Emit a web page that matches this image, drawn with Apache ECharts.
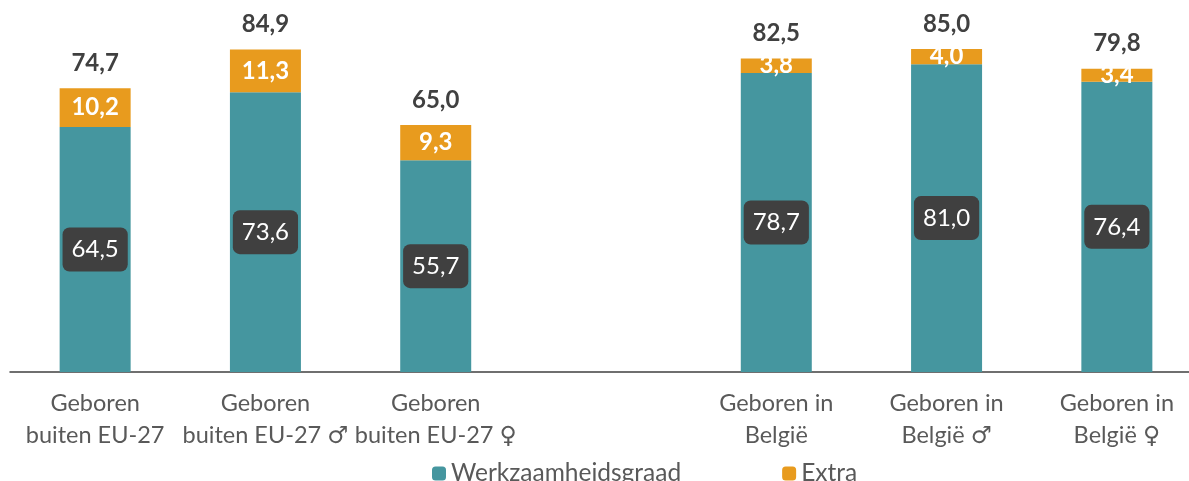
<!DOCTYPE html>
<html>
<head>
<meta charset="utf-8">
<script src="https://cdn.jsdelivr.net/npm/echarts@6/dist/echarts.min.js"></script>
<style>
  html, body { margin: 0; padding: 0; background: #fff; }
  #chart { width: 1189px; height: 481px; }
</style>
</head>
<body>
<div id="chart"></div>
<script>
// categories (middle one is an empty spacer)
const categories = [
  'Geboren\nbuiten EU-27',
  'Geboren\nbuiten EU-27 ♂',
  'Geboren\nbuiten EU-27 ♀',
  '',
  'Geboren in\nBelgië',
  'Geboren in\nBelgië ♂',
  'Geboren in\nBelgië ♀'
]
const werkzaamheidsgraad = [64.5, 73.6, 55.7, '-', 78.7, 81.0, 76.4]
const extra = [10.2, 11.3, 9.3, '-', 3.8, 4.0, 3.4]

const totals = werkzaamheidsgraad.map((v, i) => v === '-' ? '-' : +(v + extra[i]).toFixed(1))
const fmt = v => v.toFixed(1).replace('.', ',')

const font = 'Lato, "DejaVu Sans", sans-serif'

const chart = echarts.init(document.getElementById('chart'))
chart.setOption({
  animation: false,
  textStyle: { fontFamily: font },
  grid: {
    left: 10,
    width: 1192,
    top: 30,
    bottom: 109,
    outerBoundsMode: 'none'
  },
  legend: {
    data: ['Werkzaamheidsgraad', 'Extra'],
    top: 456,
    left: 427,
    itemWidth: 14,
    itemHeight: 14,
    itemGap: 101,
    textStyle: { fontSize: 24.5, color: '#595959', fontFamily: font }
  },
  xAxis: {
    type: 'category',
    data: categories,
    axisLine: { lineStyle: { color: '#404040', width: 1.5 } },
    axisTick: { alignWithLabel: true, length: 6, lineStyle: { color: '#404040', width: 1.5 } },
    axisLabel: {
      interval: 0,
      margin: 15,
      fontSize: 23.5,
      lineHeight: 32,
      color: '#595959',
      fontFamily: font
    }
  },
  yAxis: {
    type: 'value',
    min: 0,
    max: 90,
    show: false
  },
  series: [
    {
      name: 'Werkzaamheidsgraad',
      type: 'bar',
      stack: 'a',
      barWidth: 71,
      data: werkzaamheidsgraad,
      itemStyle: { color: '#45969F' },
      label: {
        show: true,
        position: 'inside',
        formatter: p => fmt(p.value),
        color: '#fff',
        fontSize: 24,
        fontFamily: font,
        backgroundColor: '#404040',
        borderRadius: 7,
        padding: [11, 9, 9, 9]
      }
    },
    {
      name: 'Extra',
      type: 'bar',
      stack: 'a',
      data: extra,
      itemStyle: { color: '#E89B1E' },
      label: {
        show: true,
        position: 'inside',
        formatter: p => fmt(p.value),
        color: '#fff',
        fontSize: 24,
        fontWeight: 'bold',
        fontFamily: font
      }
    },
    {
      name: 'Totaal',
      type: 'bar',
      stack: 'a',
      data: totals.map(t => t === '-' ? '-' : 0),
      itemStyle: { color: 'transparent' },
      label: {
        show: true,
        position: 'top',
        distance: 13,
        formatter: p => fmt(totals[p.dataIndex]),
        color: '#404040',
        fontSize: 24,
        fontWeight: 'bold',
        fontFamily: font
      }
    }
  ]
})
</script>
</body>
</html>
